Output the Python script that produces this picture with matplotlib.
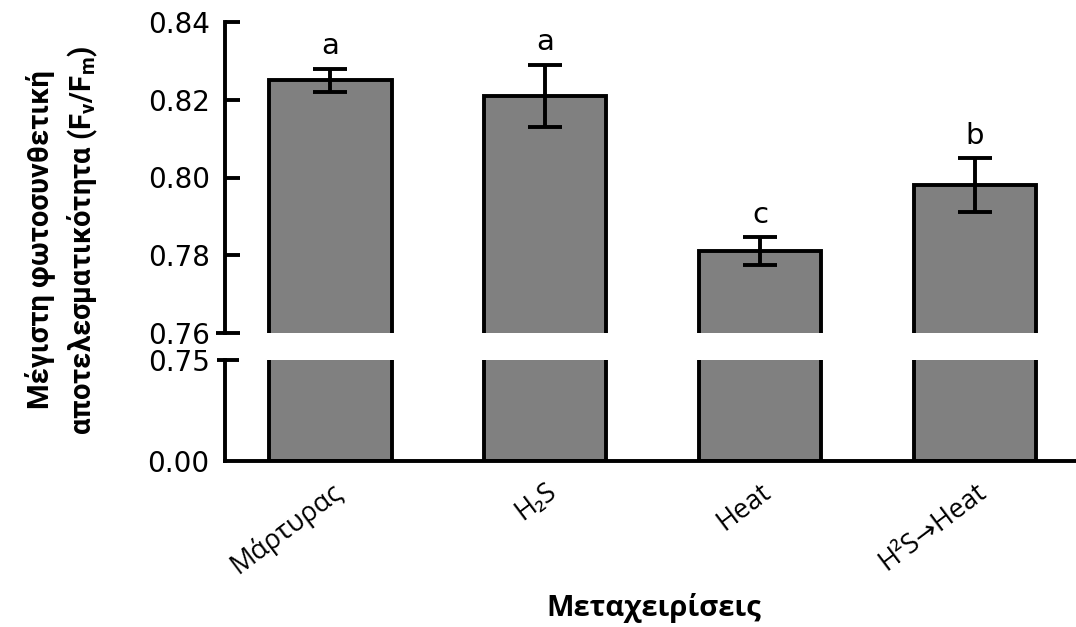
import matplotlib
matplotlib.use("Agg")
import matplotlib.pyplot as plt
from matplotlib import font_manager
import numpy as np

categories = ["Μάρτυρας", "H₂S", "Heat", "H²S→Heat"]
values = [0.825, 0.821, 0.781, 0.798]
errors = [0.003, 0.008, 0.0036, 0.007]
letters = ["a", "a", "c", "b"]
upper_ticks = [0.76, 0.78, 0.80, 0.82, 0.84]
lower_ticks = [0.00, 0.75]

plt.rcParams['mathtext.default'] = 'regular'

avail = {f.name for f in font_manager.fontManager.ttflist}
narrow = 'Liberation Sans Narrow' if 'Liberation Sans Narrow' in avail else 'Roboto'

fig = plt.figure(figsize=(10.76, 6.27), dpi=100)
W, H = 1076, 627
left = 225 / W
right = 1.0
ax_up = fig.add_axes([left, 1 - 333 / H, right - left, (333 - 22) / H])
ax_lo = fig.add_axes([left, 1 - 461 / H, right - left, (461 - 360) / H])

x = np.arange(len(categories))
bw = 0.57
lw = 2.8
for ax in (ax_up, ax_lo):
    ax.bar(x, values, width=bw, color='#808080', edgecolor='black', linewidth=lw, zorder=2)
    ax.set_xlim(-0.49, 3.47)
    for s in ('top', 'right'):
        ax.spines[s].set_visible(False)
    ax.spines['left'].set_linewidth(lw)
    ax.spines['bottom'].set_linewidth(lw)

ax_up.errorbar(x, values, yerr=errors, fmt='none', ecolor='black', elinewidth=lw,
               capsize=12, capthick=lw, zorder=3)
for xi, v, e, t in zip(x, values, errors, letters):
    ax_up.text(xi, v + e + 0.0022, t, ha='center', va='bottom', fontsize=21,
               family='DejaVu Sans')

ax_up.set_ylim(0.76, 0.84)
ax_up.set_yticks(upper_ticks)
ax_up.set_yticklabels([f"{t:.2f}" for t in upper_ticks], family='DejaVu Sans', fontsize=20)
ax_up.tick_params(axis='y', direction='in', length=11, width=lw, pad=11)
ax_up.spines['bottom'].set_visible(False)
ax_up.set_xticks([])
ax_up.plot([-0.011, 0], [0.76, 0.76], color='black', lw=lw, transform=ax_up.get_yaxis_transform(),
           clip_on=False, solid_capstyle='butt')

ax_lo.set_ylim(0, 0.75)
ax_lo.set_yticks(lower_ticks)
ax_lo.set_yticklabels([f"{t:.2f}" for t in lower_ticks], family='DejaVu Sans', fontsize=20)
ax_lo.tick_params(axis='y', direction='in', length=0, width=lw, pad=11)
ax_lo.plot([-0.009, 0.016], [0.75, 0.75], color='black', lw=lw, transform=ax_lo.get_yaxis_transform(),
           clip_on=False, solid_capstyle='butt')
ax_lo.set_xticks(x)
ax_lo.set_xticklabels(categories, rotation=37, ha='right', rotation_mode='anchor',
                      family=['Open Sans', 'DejaVu Sans'], fontsize=19.5)
ax_lo.tick_params(axis='x', length=0, pad=12)

fig.text(654 / W, 1 - 608 / H, "Μεταχειρίσεις", ha='center', va='center', fontsize=21,
         fontweight='bold', family=['Open Sans', 'DejaVu Sans'])
fig.text(62 / W, 1 - 240 / H, "Μέγιστη φωτοσυνθετική\nαποτελεσματικότητα (F$_v$/F$_m$)",
         ha='center', va='center', rotation=90, fontsize=21, fontweight='bold',
         family=[narrow, 'DejaVu Sans'], linespacing=1.45)

fig.savefig("out.png", dpi=100)
